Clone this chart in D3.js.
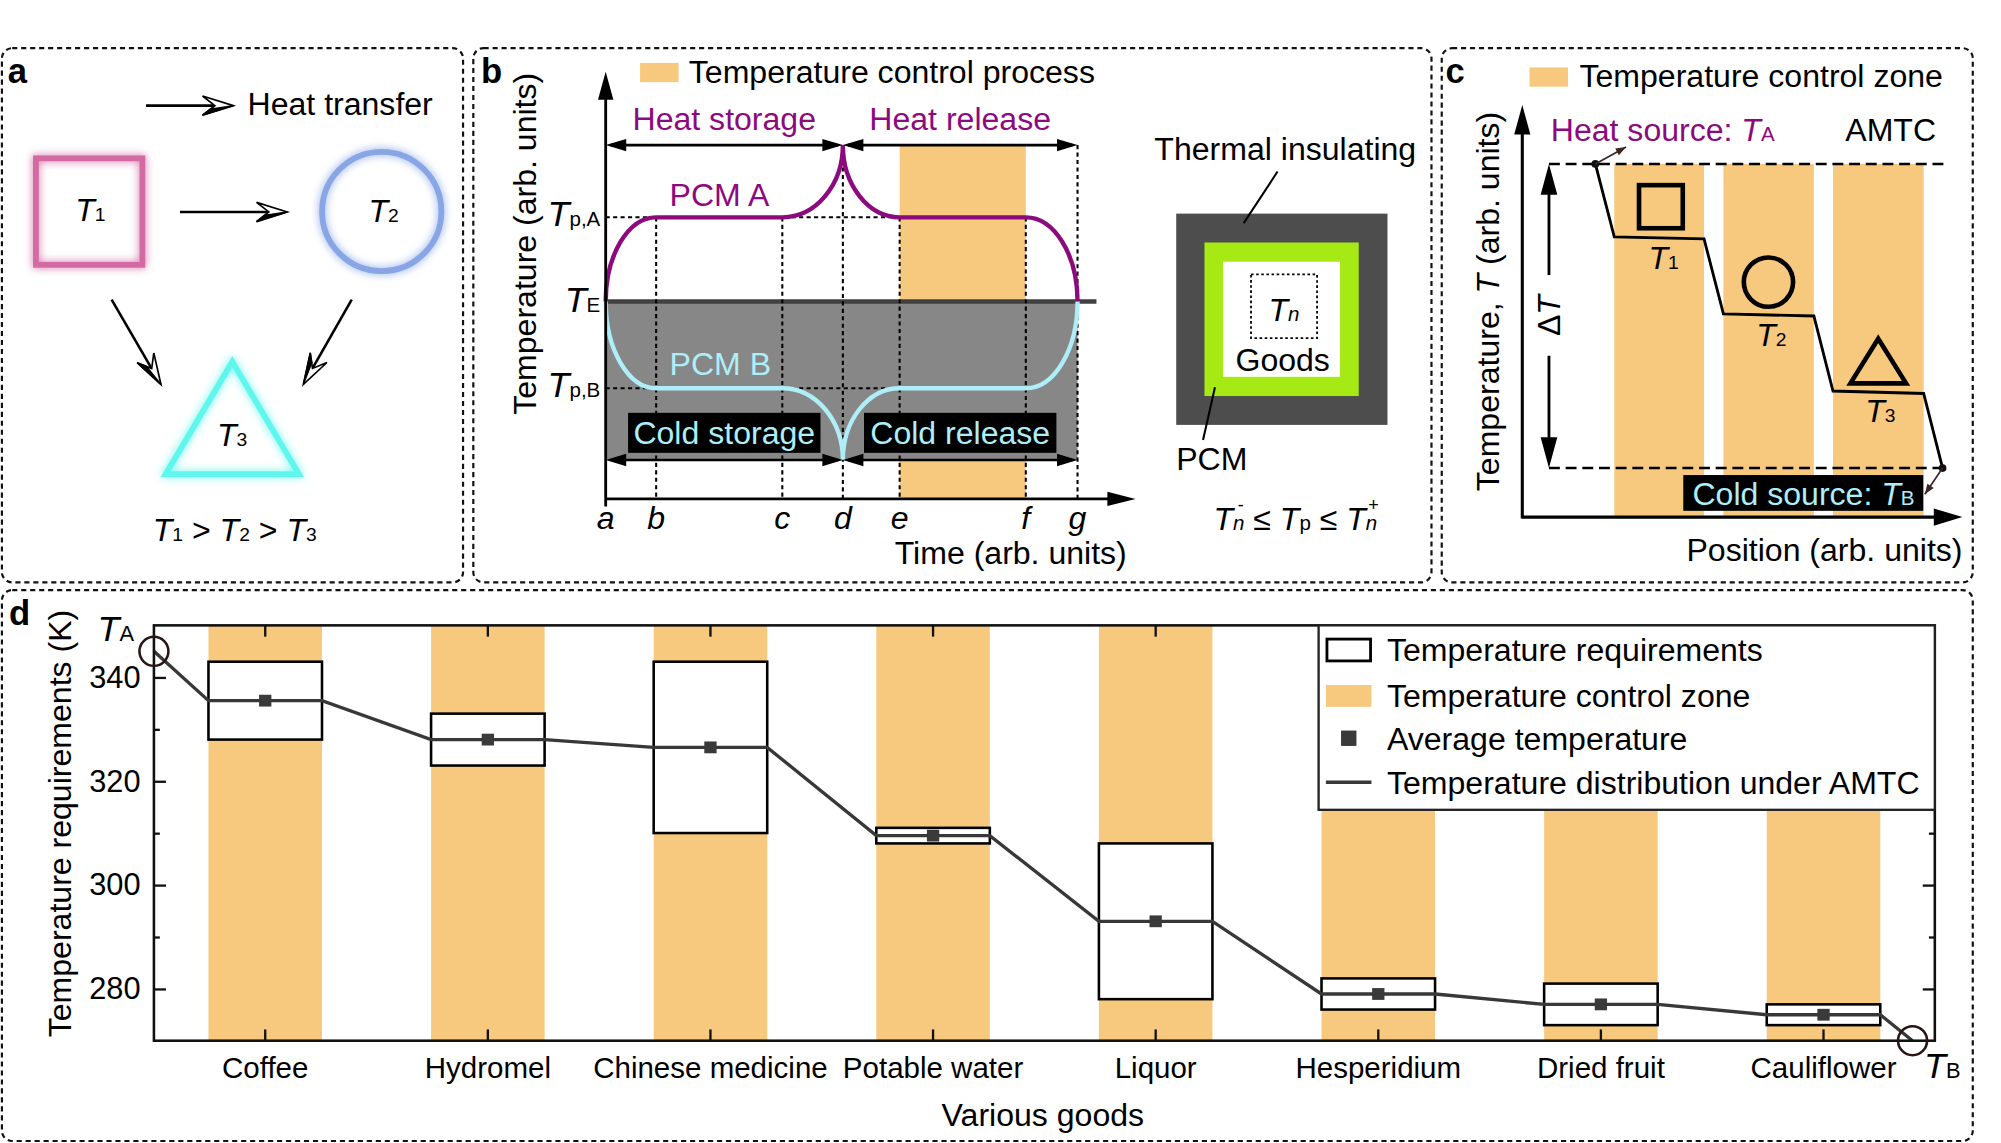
<!DOCTYPE html>
<html>
<head>
<meta charset="utf-8">
<script src="https://cdn.jsdelivr.net/npm/d3@7"></script>
<style>
  body { margin: 0; background: #fff; }
  svg { display: block; font-family: "Liberation Sans", Arial, Helvetica, sans-serif; }
</style>
</head>
<body>
<div id="chart"></div>
<script>
////////////////////////////////////////////////////////////////////
////////////////////////////  Data  ////////////////////////////////
// panel d : temperature requirements of goods (K)
const goods = ["Coffee", "Hydromel", "Chinese medicine", "Potable water", "Liquor", "Hesperidium", "Dried fruit", "Cauliflower"];
const tempLow = [328, 323, 310, 308, 278, 276, 273, 273];
const tempHigh = [343, 333, 343, 311, 308, 282, 281, 277];
const tempAvg = [335.5, 328, 326.5, 309.5, 293, 279, 277, 275];
const sourceTemps = [345, 270]; // T_A, T_B
const yTicks = [280, 300, 320, 340];
const yMinorTicks = [290, 310, 330];
const legendLabels = ["Temperature requirements", "Temperature control zone", "Average temperature", "Temperature distribution under AMTC"];

// panel b : PCM curves (arb. units)
const timeLabels = ["a", "b", "c", "d", "e", "f", "g"];
const timeValues = [0, 0.4, 1.4, 1.88, 2.33, 3.33, 3.74];
// peak, Tp,A, TE, Tp,B, trough
const levelValues = [0.828, 0.659, 0.462, 0.259, 0.091];

// panel c : AMTC steps (arb. units)
const zoneStart = [0.209, 0.457, 0.706];
const zoneEnd = [0.413, 0.6625, 0.912];
const stepIn = [0.680, 0.493, 0.306];
const stepOut = [0.675, 0.488, 0.300];
const sourceLevels = [0.857, 0.119]; // heat source, cold source

////////////////////////////////////////////////////////////////////
////////////////////////////  Init  ////////////////////////////////
const W = 1560, H = 891;
const ORANGE = "#f7c97e", PURPLE = "#8c0a7e", CYAN = "#aeeef9";

const svg = d3.select("#chart").append("svg")
  .attr("width", 2001).attr("height", 1143)
  .attr("viewBox", `0 0 ${W} ${H}`);
const defs = svg.append("defs");

function glow(id, std) {
  const f = defs.append("filter").attr("id", id)
    .attr("x", "-40%").attr("y", "-40%").attr("width", "180%").attr("height", "180%");
  f.append("feGaussianBlur").attr("in", "SourceGraphic").attr("stdDeviation", std).attr("result", "b");
  const m = f.append("feMerge");
  m.append("feMergeNode").attr("in", "b");
  m.append("feMergeNode").attr("in", "SourceGraphic");
}
glow("glow", 3.5);

// rich text: parts = [{t, i (italic), s (size), dx, dy}]
function rich(g, x, y, parts, opt = {}) {
  const t = g.append("text").attr("x", x).attr("y", y)
    .attr("font-size", opt.size || 25)
    .attr("fill", opt.fill || "#000")
    .attr("text-anchor", opt.anchor || "start");
  if (opt.rotate) t.attr("transform", `rotate(${opt.rotate},${x},${y})`);
  parts.forEach((p) => {
    const s = t.append("tspan").text(p.t);
    if (p.i) s.attr("font-style", "italic");
    if (p.s) s.attr("font-size", p.s);
    if (p.dx) s.attr("dx", p.dx);
    if (p.dy) s.attr("dy", p.dy);
  });
  return t;
}
const txt = (g, x, y, str, opt = {}) => rich(g, x, y, [{ t: str }], opt);

// filled triangular head, tip at (x,y), pointing to angle
function solidHead(g, x, y, ang, len, half, color = "#000") {
  g.append("path")
    .attr("d", `M0,0L${-len},${-half}L${-len},${half}Z`)
    .attr("transform", `translate(${x},${y}) rotate(${ang})`)
    .attr("fill", color);
}

// thin line + open barbed head (panel a)
function openArrow(g, x1, y1, x2, y2) {
  const ang = (Math.atan2(y2 - y1, x2 - x1) * 180) / Math.PI;
  const len = 24, half = 7.5;
  const L = Math.hypot(x2 - x1, y2 - y1);
  const ux = (x2 - x1) / L, uy = (y2 - y1) / L;
  g.append("line")
    .attr("x1", x1).attr("y1", y1)
    .attr("x2", x2 - ux * len * 0.6).attr("y2", y2 - uy * len * 0.6)
    .attr("stroke", "#000").attr("stroke-width", 2);
  const h = g.append("g").attr("transform", `translate(${x2},${y2}) rotate(${ang})`);
  h.append("path")
    .attr("d", `M0,0L${-len},${-half}L${-len * 0.6},0L${-len},${half}Z`)
    .attr("fill", "#fff").attr("stroke", "#000").attr("stroke-width", 1.3);
  h.append("path")
    .attr("d", `M0,0L${-len},${half}L${-len * 0.75},${half * 0.35}Z`)
    .attr("fill", "#000").attr("stroke", "#000").attr("stroke-width", 1);
}

////////////////////////////////////////////////////////////////////
////////////////////////////  Frames  //////////////////////////////
const frames = [
  [1.5, 37.5, 361, 454],
  [369, 37.5, 1116, 454],
  [1124, 37.5, 1538, 454],
  [1.5, 460, 1538, 889.5],
];
svg.selectAll("rect.frame").data(frames).join("rect")
  .attr("class", "frame")
  .attr("x", (d) => d[0]).attr("y", (d) => d[1])
  .attr("width", (d) => d[2] - d[0]).attr("height", (d) => d[3] - d[1])
  .attr("rx", 8).attr("ry", 8)
  .attr("fill", "none").attr("stroke", "#111")
  .attr("stroke-width", 1.7).attr("stroke-dasharray", "4,3");

[["a", 6, 65], ["b", 375, 65], ["c", 1127, 65], ["d", 7, 487]].forEach(([l, x, y]) =>
  txt(svg, x, y, l, { size: 27 }).attr("font-weight", "bold"));

////////////////////////////////////////////////////////////////////
////////////////////////////  Panel a  /////////////////////////////
const gA = svg.append("g");
openArrow(gA, 113.8, 82.3, 181.9, 82.3);
txt(gA, 193, 89.5, "Heat transfer");

gA.append("rect").attr("x", 28).attr("y", 123.4).attr("width", 83).attr("height", 83)
  .attr("fill", "none").attr("stroke", "#d36aa3").attr("stroke-width", 4.5).attr("filter", "url(#glow)");
gA.append("circle").attr("cx", 297.6).attr("cy", 164.8).attr("r", 46.5)
  .attr("fill", "none").attr("stroke", "#88a6e6").attr("stroke-width", 4.5).attr("filter", "url(#glow)");
gA.append("path").attr("d", "M181.1,282L233,369.5L129.2,369.5Z")
  .attr("fill", "none").attr("stroke", "#5ff6ee").attr("stroke-width", 4.5)
  .attr("stroke-linejoin", "miter").attr("filter", "url(#glow)");

rich(gA, 70.5, 172, [{ t: "T", i: true }, { t: "1", s: 15 }], { anchor: "middle" });
rich(gA, 299, 173, [{ t: "T", i: true }, { t: "2", s: 15 }], { anchor: "middle" });
rich(gA, 181, 348, [{ t: "T", i: true }, { t: "3", s: 15 }], { anchor: "middle" });

openArrow(gA, 140.3, 165.2, 224, 165.2);
openArrow(gA, 87, 233.6, 125.5, 299.7);
openArrow(gA, 274.2, 233.6, 236.5, 299.7);

rich(gA, 183, 422, [
  { t: "T", i: true }, { t: "1", s: 15 }, { t: " > " },
  { t: "T", i: true }, { t: "2", s: 15 }, { t: " > " },
  { t: "T", i: true }, { t: "3", s: 15 },
], { anchor: "middle" });

////////////////////////////////////////////////////////////////////
////////////////////////////  Panel b  /////////////////////////////
const gB = svg.append("g");
const xB = d3.scaleLinear().domain([0, 4.2]).range([472.2, 885.3]);
const yB = d3.scaleLinear().domain([0, 1]).range([388.9, 55.8]);
const [tA, tB, tC, tD, tE, tF, tG] = timeValues.map(xB);
const [lvPeak, lvPA, lvTE, lvPB, lvTrough] = levelValues;

// legend
gB.append("rect").attr("x", 499).attr("y", 49).attr("width", 30).attr("height", 15).attr("fill", ORANGE);
txt(gB, 537, 65, "Temperature control process");

// release zone e..f
gB.append("rect").attr("x", tE).attr("y", yB(lvPeak))
  .attr("width", tF - tE).attr("height", yB(0) - yB(lvPeak)).attr("fill", ORANGE);

// cold (grey) region
gB.append("rect").attr("x", tA).attr("y", yB(lvTE))
  .attr("width", tG - tA).attr("height", yB(lvTrough) - yB(lvTE)).attr("fill", "#878787");

// TE line
gB.append("line").attr("x1", tA).attr("x2", xB(3.89))
  .attr("y1", yB(lvTE)).attr("y2", yB(lvTE))
  .attr("stroke", "#404040").attr("stroke-width", 3.4);

// dotted guides
const dash = (g, x1, y1, x2, y2) => g.append("line")
  .attr("x1", x1).attr("y1", y1).attr("x2", x2).attr("y2", y2)
  .attr("stroke", "#000").attr("stroke-width", 1.6).attr("stroke-dasharray", "3.2,2.6");
dash(gB, tA, yB(lvPA), tE, yB(lvPA));
dash(gB, tA, yB(lvPB), tE, yB(lvPB));
[tB, tC, tE, tF].forEach((t) => dash(gB, t, yB(lvPA), t, yB(0)));
dash(gB, tD, yB(lvPeak), tD, yB(0));
dash(gB, tG, yB(lvPeak), tG, yB(0));

// PCM curves built from quarter ellipses between the time marks
function pcmPath(peak, plateau) {
  const k = 0.5523;
  const yE = yB(lvTE), yP = yB(plateau), yK = yB(peak);
  const p = d3.path();
  p.moveTo(tA, yE);
  p.bezierCurveTo(tA, yE + k * (yP - yE), tB - k * (tB - tA), yP, tB, yP);
  p.lineTo(tC, yP);
  p.bezierCurveTo(tC + k * (tD - tC), yP, tD, yK + k * (yP - yK), tD, yK);
  p.bezierCurveTo(tD, yK + k * (yP - yK), tE - k * (tE - tD), yP, tE, yP);
  p.lineTo(tF, yP);
  p.bezierCurveTo(tF + k * (tG - tF), yP, tG, yE + k * (yP - yE), tG, yE);
  return p.toString();
}
gB.append("path").attr("d", pcmPath(lvPeak, lvPA))
  .attr("fill", "none").attr("stroke", PURPLE).attr("stroke-width", 3.4);
gB.append("path").attr("d", pcmPath(lvTrough, lvPB))
  .attr("fill", "none").attr("stroke", CYAN).attr("stroke-width", 3.4);

// double arrows
function dblArrow(g, x1, x2, y) {
  g.append("line").attr("x1", x1 + 4).attr("x2", x2 - 4).attr("y1", y).attr("y2", y)
    .attr("stroke", "#000").attr("stroke-width", 2);
  solidHead(g, x1, y, 180, 16, 4.8);
  solidHead(g, x2, y, 0, 16, 4.8);
}
dblArrow(gB, tA, tD, yB(lvPeak));
dblArrow(gB, tD, tG, yB(lvPeak));
dblArrow(gB, tA, tD, yB(lvTrough));
dblArrow(gB, tD, tG, yB(lvTrough));

txt(gB, (tA + tD) / 2, yB(lvPeak) - 12, "Heat storage", { anchor: "middle", fill: PURPLE });
txt(gB, (tD + tG) / 2, yB(lvPeak) - 12, "Heat release", { anchor: "middle", fill: PURPLE });
txt(gB, 522, yB(lvPA) - 9, "PCM A", { fill: PURPLE });
txt(gB, 522, yB(lvPB) - 10, "PCM B", { fill: CYAN });

[["Cold storage", (tA + tD) / 2], ["Cold release", (tD + tG) / 2]].forEach(([l, cx]) => {
  gB.append("rect").attr("x", cx - 75).attr("y", 321.8).attr("width", 150).attr("height", 31.2).attr("fill", "#000");
  txt(gB, cx, 346, l, { anchor: "middle", fill: CYAN });
});

// axes
gB.append("line").attr("x1", tA).attr("x2", tA).attr("y1", yB(0) + 6).attr("y2", yB(1) + 18)
  .attr("stroke", "#000").attr("stroke-width", 2.2);
solidHead(gB, tA, yB(1), -90, 22, 6);
gB.append("line").attr("x1", tA).attr("x2", xB(4.2) - 18).attr("y1", yB(0)).attr("y2", yB(0))
  .attr("stroke", "#000").attr("stroke-width", 2.2);
solidHead(gB, xB(4.2), yB(0), 0, 22, 5.5);

timeLabels.forEach((l, i) =>
  txt(gB, xB(timeValues[i]), 412, l, { anchor: "middle" }).attr("font-style", "italic"));

rich(gB, 468, yB(lvPA) + 7, [{ t: "T", i: true, s: 28 }, { t: "p,A", s: 16 }], { anchor: "end" });
rich(gB, 468, yB(lvTE) + 8, [{ t: "T", i: true, s: 28 }, { t: "E", s: 16 }], { anchor: "end" });
rich(gB, 468, yB(lvPB) + 7, [{ t: "T", i: true, s: 28 }, { t: "p,B", s: 16 }], { anchor: "end" });

txt(gB, 417.5, 190, "Temperature (arb. units)", { anchor: "middle", rotate: -90 });
txt(gB, 788, 440, "Time (arb. units)", { anchor: "middle" });

// container schematic
gB.append("rect").attr("x", 917).attr("y", 166.5).attr("width", 164.7).attr("height", 164.7).attr("fill", "#4d4d4d");
gB.append("rect").attr("x", 939).attr("y", 189).attr("width", 120.3).attr("height", 119.7).attr("fill", "#a7e915");
gB.append("rect").attr("x", 953.5).attr("y", 204).attr("width", 91.2).attr("height", 89.7).attr("fill", "#fff");
gB.append("rect").attr("x", 975.3).attr("y", 213.9).attr("width", 51.5).attr("height", 49.7)
  .attr("fill", "none").attr("stroke", "#000").attr("stroke-width", 1.4).attr("stroke-dasharray", "2,2");
rich(gB, 1001, 250, [{ t: "T", i: true }, { t: "n", i: true, s: 16 }], { anchor: "middle" });
txt(gB, 1000, 289, "Goods", { anchor: "middle" });
txt(gB, 1002, 125, "Thermal insulating", { anchor: "middle" });
gB.append("line").attr("x1", 996).attr("y1", 133.7).attr("x2", 969.6).attr("y2", 173.9)
  .attr("stroke", "#000").attr("stroke-width", 1.6);
txt(gB, 917, 366, "PCM");
gB.append("line").attr("x1", 947.2).attr("y1", 301.9).attr("x2", 937.9).attr("y2", 343)
  .attr("stroke", "#000").attr("stroke-width", 1.6);

// Tn- <= Tp <= Tn+  (superscripts placed over the n glyphs)
const formula = rich(gB, 946, 413, [
  { t: "T", i: true }, { t: "n", i: true, s: 16 }, { t: " ≤ " },
  { t: "T", i: true }, { t: "p", s: 16 }, { t: " ≤ " },
  { t: "T", i: true }, { t: "n", i: true, s: 16 },
], { size: 25 });
const fNode = formula.node();
const nChars = fNode.getNumberOfChars();
[[1, "-"], [nChars - 1, "+"]].forEach(([ci, sym]) => {
  const ext = fNode.getExtentOfChar(ci);
  txt(gB, ext.x + ext.width / 2 + 1.5, 398, sym, { size: 14, anchor: "middle" });
});

////////////////////////////////////////////////////////////////////
////////////////////////////  Panel c  /////////////////////////////
const gC = svg.append("g");
const xC = d3.scaleLinear().domain([0, 1]).range([1186.8, 1529.9]);
const yC = d3.scaleLinear().domain([0, 1]).range([403.1, 81.8]);
const [lvA, lvB] = sourceLevels;

gC.append("rect").attr("x", 1192.4).attr("y", 52.5).attr("width", 30).attr("height", 15).attr("fill", ORANGE);
txt(gC, 1231.4, 68, "Temperature control zone");

gC.selectAll("rect.zone").data(zoneStart).join("rect")
  .attr("class", "zone")
  .attr("x", (d) => xC(d)).attr("y", yC(lvA))
  .attr("width", (d, i) => xC(zoneEnd[i]) - xC(d))
  .attr("height", yC(0) - yC(lvA))
  .attr("fill", ORANGE);

[lvA, lvB].forEach((lv) =>
  gC.append("line").attr("x1", xC(0.0606)).attr("x2", xC(0.96))
    .attr("y1", yC(lv)).attr("y2", yC(lv))
    .attr("stroke", "#000").attr("stroke-width", 2).attr("stroke-dasharray", "8.5,4.5"));

// step line
const stepPts = [[0.166, lvA]];
zoneStart.forEach((z, i) => { stepPts.push([z, stepIn[i]], [zoneEnd[i], stepOut[i]]); });
stepPts.push([0.955, lvB]);
gC.append("path")
  .attr("d", d3.line().x((d) => xC(d[0])).y((d) => yC(d[1]))(stepPts))
  .attr("fill", "none").attr("stroke", "#000").attr("stroke-width", 2.2);
[stepPts[0], stepPts[stepPts.length - 1]].forEach((p) =>
  gC.append("circle").attr("cx", xC(p[0])).attr("cy", yC(p[1])).attr("r", 3).attr("fill", "#111"));

// small arrows at the sources
function thinArrow(g, x1, y1, x2, y2) {
  const ang = (Math.atan2(y2 - y1, x2 - x1) * 180) / Math.PI;
  g.append("line").attr("x1", x1).attr("y1", y1).attr("x2", x2).attr("y2", y2)
    .attr("stroke", "#3b2525").attr("stroke-width", 1.3);
  solidHead(g, x2, y2, ang, 8, 3, "#3b2525");
}
thinArrow(gC, xC(0.166), yC(lvA), 1267.7, 114.6);
thinArrow(gC, xC(0.955), yC(lvB), 1500.6, 385.3);

// shapes
gC.append("rect").attr("x", 1277.8).attr("y", 144.3).attr("width", 34.1).attr("height", 33.6)
  .attr("fill", "none").attr("stroke", "#000").attr("stroke-width", 3.6);
gC.append("circle").attr("cx", 1378.7).attr("cy", 219.9).attr("r", 19.2)
  .attr("fill", "none").attr("stroke", "#000").attr("stroke-width", 3.6);
gC.append("path").attr("d", "M1464.3,264L1486,298.8L1442.6,298.8Z")
  .attr("fill", "none").attr("stroke", "#000").attr("stroke-width", 3.6);
rich(gC, 1297, 210, [{ t: "T", i: true }, { t: "1", s: 15 }], { anchor: "middle" });
rich(gC, 1381, 270, [{ t: "T", i: true }, { t: "2", s: 15 }], { anchor: "middle" });
rich(gC, 1466, 329, [{ t: "T", i: true }, { t: "3", s: 15 }], { anchor: "middle" });

// Delta T
const xDT = xC(0.0606);
gC.append("line").attr("x1", xDT).attr("x2", xDT).attr("y1", yC(lvA) + 10).attr("y2", 214.4)
  .attr("stroke", "#000").attr("stroke-width", 2.2);
gC.append("line").attr("x1", xDT).attr("x2", xDT).attr("y1", 277.3).attr("y2", yC(lvB) - 10)
  .attr("stroke", "#000").attr("stroke-width", 2.2);
solidHead(gC, xDT, yC(lvA), -90, 24, 6.5);
solidHead(gC, xDT, yC(lvB), 90, 24, 6.5);
rich(gC, 1216, 246, [{ t: "Δ" }, { t: "T", i: true }], { anchor: "middle", rotate: -90 });

// axes
gC.append("line").attr("x1", xC(0)).attr("x2", xC(0)).attr("y1", yC(0) + 1).attr("y2", yC(1) + 18)
  .attr("stroke", "#000").attr("stroke-width", 2.4);
solidHead(gC, xC(0), yC(1), -90, 23, 6.3);
gC.append("line").attr("x1", xC(0)).attr("x2", xC(1) - 18).attr("y1", yC(0)).attr("y2", yC(0))
  .attr("stroke", "#000").attr("stroke-width", 2.4);
solidHead(gC, xC(1), yC(0), 0, 22.3, 6.8);

rich(gC, 1209, 110, [{ t: "Heat source: " }, { t: "T", i: true }, { t: "A", s: 16 }], { fill: PURPLE });
txt(gC, 1474, 110, "AMTC", { anchor: "middle" });
gC.append("rect").attr("x", 1312.3).attr("y", 370.3).attr("width", 187.1).attr("height", 27.9).attr("fill", "#000");
rich(gC, 1406, 393.5, [{ t: "Cold source: " }, { t: "T", i: true }, { t: "B", s: 16 }], { anchor: "middle", fill: CYAN });

rich(gC, 1168.5, 235, [{ t: "Temperature, " }, { t: "T", i: true }, { t: " (arb. units)" }], { anchor: "middle", rotate: -90 });
txt(gC, 1530, 437, "Position (arb. units)", { anchor: "end" });

////////////////////////////////////////////////////////////////////
////////////////////////////  Panel d  /////////////////////////////
const gD = svg.append("g");
const dL = 120, dR = 1508.4, dT = 487.5, dB = 811.3;
const x = d3.scaleBand().domain(goods).range([dL, dR]).paddingInner(0.49).paddingOuter(0.245);
const bw = x.bandwidth();
const y = d3.scaleLinear().domain([270, 350]).range([dB, dT]);
const xIdx = d3.scaleLinear().domain([-0.5, goods.length - 0.5]).range([dL, dR]);

// control zones
gD.selectAll("rect.zone").data(goods).join("rect")
  .attr("class", "zone")
  .attr("x", (d) => x(d)).attr("y", y(350))
  .attr("width", bw).attr("height", y(270) - y(350))
  .attr("fill", ORANGE);

// requirement boxes
gD.selectAll("rect.req").data(goods).join("rect")
  .attr("class", "req")
  .attr("x", (d) => x(d)).attr("y", (d, i) => y(tempHigh[i]))
  .attr("width", bw).attr("height", (d, i) => y(tempLow[i]) - y(tempHigh[i]))
  .attr("fill", "#fff").attr("stroke", "#000").attr("stroke-width", 2);

// AMTC distribution
const linePts = [[xIdx(-0.5), y(sourceTemps[0])]];
goods.forEach((g, i) => {
  linePts.push([x(g), y(tempAvg[i])], [x(g) + bw, y(tempAvg[i])]);
});
linePts.push([xIdx(goods.length - 0.6), y(sourceTemps[1])]);
gD.append("path").attr("d", d3.line()(linePts))
  .attr("fill", "none").attr("stroke", "#383838").attr("stroke-width", 2.6);

gD.selectAll("rect.avg").data(goods).join("rect")
  .attr("class", "avg")
  .attr("x", (d) => x(d) + bw / 2 - 4.8).attr("y", (d, i) => y(tempAvg[i]) - 4.6)
  .attr("width", 9.6).attr("height", 9.2)
  .attr("fill", "#3a3a3a");

// frame + axes
gD.append("rect").attr("x", dL).attr("y", dT).attr("width", dR - dL).attr("height", dB - dT)
  .attr("fill", "none").attr("stroke", "#111").attr("stroke-width", 2);

function styleAxis(g) {
  g.select(".domain").remove();
  g.selectAll(".tick line").attr("stroke", "#111").attr("stroke-width", 1.8);
  g.attr("font-family", null).attr("font-size", null);
}
gD.append("g").attr("transform", `translate(${dL},0)`)
  .call(d3.axisLeft(y).tickValues(yTicks).tickSize(-9.4).tickPadding(10.4))
  .call(styleAxis)
  .selectAll("text").attr("font-size", 24).attr("fill", "#000");
gD.append("g").attr("transform", `translate(${dL},0)`)
  .call(d3.axisLeft(y).tickValues(yMinorTicks).tickSize(-4.6).tickFormat(""))
  .call(styleAxis);
gD.append("g").attr("transform", `translate(${dR},0)`)
  .call(d3.axisRight(y).tickValues(yTicks).tickSize(-9.4).tickFormat(""))
  .call(styleAxis);
gD.append("g").attr("transform", `translate(${dR},0)`)
  .call(d3.axisRight(y).tickValues(yMinorTicks).tickSize(-4.6).tickFormat(""))
  .call(styleAxis);
gD.append("g").attr("transform", `translate(0,${dB})`)
  .call(d3.axisBottom(x).tickSize(-8.8).tickPadding(13))
  .call(styleAxis)
  .selectAll("text").attr("font-size", 23).attr("fill", "#000");
gD.append("g").attr("transform", `translate(0,${dT})`)
  .call(d3.axisTop(x).tickSize(-8.8).tickFormat(""))
  .call(styleAxis);

// source circles
[[xIdx(-0.5), sourceTemps[0]], [xIdx(goods.length - 0.6), sourceTemps[1]]].forEach(([cx, t]) =>
  gD.append("circle").attr("cx", cx).attr("cy", y(t)).attr("r", 11.3)
    .attr("fill", "none").attr("stroke", "#2a1515").attr("stroke-width", 2));
rich(gD, 76, 500, [{ t: "T", i: true, s: 28 }, { t: "A", s: 17 }]);
rich(gD, 1500, 840, [{ t: "T", i: true, s: 28 }, { t: "B", s: 17 }]);

txt(gD, 55.6, 642, "Temperature requirements (K)", { anchor: "middle", rotate: -90 });
txt(gD, 813, 878, "Various goods", { anchor: "middle" });

// legend
const lg = gD.append("g");
lg.append("rect").attr("x", 1028).attr("y", dT).attr("width", dR - 1028).attr("height", 631.3 - dT)
  .attr("fill", "#fff").attr("stroke", "#222").attr("stroke-width", 1.8);
const rowY = [506.7, 542.5, 575.5, 609.8];
lg.append("rect").attr("x", 1034.5).attr("y", rowY[0] - 8.5).attr("width", 34).attr("height", 17)
  .attr("fill", "#fff").attr("stroke", "#000").attr("stroke-width", 2.2);
lg.append("rect").attr("x", 1033.7).attr("y", rowY[1] - 8.5).attr("width", 35.5).attr("height", 17)
  .attr("fill", ORANGE);
lg.append("rect").attr("x", 1051.5 - 6).attr("y", rowY[2] - 6).attr("width", 12).attr("height", 12)
  .attr("fill", "#3a3a3a");
lg.append("line").attr("x1", 1033.7).attr("x2", 1069.2).attr("y1", rowY[3]).attr("y2", rowY[3])
  .attr("stroke", "#383838").attr("stroke-width", 2.8);
legendLabels.forEach((l, i) => txt(lg, 1081.3, rowY[i] + 8.8, l));
</script>
</body>
</html>
